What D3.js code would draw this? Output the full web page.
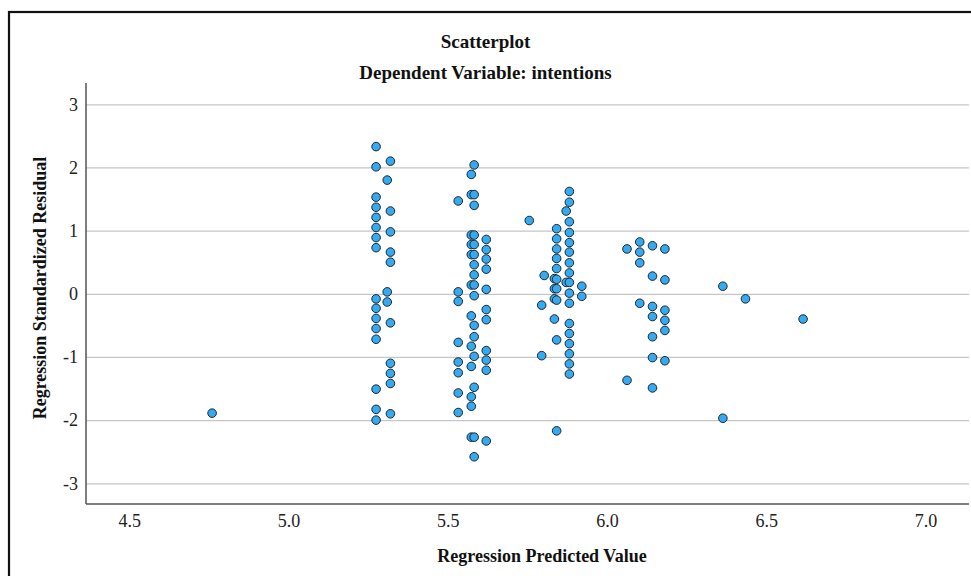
<!DOCTYPE html>
<html>
<head>
<meta charset="utf-8">
<script src="https://cdn.jsdelivr.net/npm/d3@7"></script>
<style>
  html, body { margin: 0; padding: 0; background: #fff; }
  svg { display: block; }
</style>
</head>
<body>
<svg id="chart" width="971" height="576"></svg>
<script>
// Predicted value of each vertical stack of cases
const predictedValues = [
  4.760, 5.275, 5.310, 5.320, 5.533, 5.574, 5.583, 5.621,
  5.756, 5.795, 5.803, 5.835, 5.842, 5.872, 5.882, 5.921,
  6.063, 6.103, 6.143, 6.182, 6.364, 6.435, 6.616
];

// Standardized residuals of the cases sharing each predicted value
const standardizedResiduals = [
  [-1.89],
  [2.33, 2.01, 1.53, 1.37, 1.21, 1.05, 0.89, 0.73, -0.08, -0.23, -0.39, -0.55, -0.72, -1.51, -1.83, -2.00],
  [1.80, 0.03, -0.13],
  [2.10, 1.31, 0.98, 0.66, 0.50, -0.46, -1.10, -1.26, -1.42, -1.90],
  [1.47, 0.03, -0.12, -0.77, -1.08, -1.25, -1.57, -1.88],
  [1.89, 1.57, 0.93, 0.78, 0.62, 0.14, -0.35, -0.83, -1.15, -1.63, -1.78, -2.27],
  [2.04, 1.57, 1.40, 0.93, 0.78, 0.62, 0.46, 0.30, 0.14, -0.03, -0.50, -0.68, -0.99, -1.48, -2.27, -2.58],
  [0.86, 0.70, 0.55, 0.39, 0.07, -0.25, -0.41, -0.90, -1.05, -1.21, -2.33],
  [1.16],
  [-0.18, -0.98],
  [0.29],
  [0.24, 0.08, -0.08, -0.40],
  [1.03, 0.87, 0.71, 0.56, 0.40, 0.23, 0.08, -0.10, -0.73, -2.17],
  [1.31, 0.18],
  [1.62, 1.45, 1.14, 0.97, 0.81, 0.66, 0.49, 0.33, 0.18, 0.01, -0.15, -0.47, -0.63, -0.79, -0.95, -1.11, -1.27],
  [0.12, -0.04],
  [0.71, -1.37],
  [0.82, 0.66, 0.49, -0.15],
  [0.76, 0.28, -0.20, -0.36, -0.68, -1.01, -1.49],
  [0.71, 0.22, -0.26, -0.42, -0.58, -1.06],
  [0.12, -1.97],
  [-0.08],
  [-0.40]
];

const xTicks = [4.5, 5.0, 5.5, 6.0, 6.5, 7.0];
const yTicks = [3, 2, 1, 0, -1, -2, -3];

const titleText = "Scatterplot";
const subtitleText = "Dependent Variable: intentions";
const xTitle = "Regression Predicted Value";
const yTitle = "Regression Standardized Residual";

const points = predictedValues.flatMap((p, i) =>
  standardizedResiduals[i].map(r => ({ predicted: p, residual: r })));

const svg = d3.select("#chart");
const W = 971, H = 576;
const plot = { left: 86, right: 969, top: 83, bottom: 504 };
const serif = "'Liberation Serif', 'Times New Roman', serif";

const x = d3.scaleLinear().domain([4.364, 7.137]).range([plot.left, plot.right]);
const y = d3.scaleLinear().domain([-3.328, 3.337]).range([plot.bottom, plot.top]);

// Outer frame of the chart
svg.append("rect")
  .attr("x", 9).attr("y", 12)
  .attr("width", W).attr("height", H)
  .attr("fill", "none").attr("stroke", "#111").attr("stroke-width", 2.2);

// Horizontal gridlines at each residual tick
svg.append("g")
  .attr("transform", `translate(${plot.left},0)`)
  .call(d3.axisRight(y).tickValues(yTicks).tickSize(plot.right - plot.left).tickFormat(""))
  .call(g => g.select(".domain").remove())
  .call(g => g.selectAll("line").attr("stroke", "#c6c6c6").attr("stroke-width", 1.2));

// Y axis
svg.append("g")
  .attr("transform", `translate(${plot.left},0)`)
  .call(d3.axisLeft(y).tickValues(yTicks).tickSize(0).tickPadding(8).tickFormat(d => String(d)))
  .call(g => g.select(".domain").attr("stroke", "#555").attr("stroke-width", 1.5)
    .attr("d", `M0,${plot.top}V${plot.bottom}`))
  .call(g => g.selectAll("text").attr("font-family", serif).attr("font-size", 18).attr("fill", "#222"));

// X axis
svg.append("g")
  .attr("transform", `translate(0,${plot.bottom})`)
  .call(d3.axisBottom(x).tickValues(xTicks).tickSize(0).tickPadding(10).tickFormat(d3.format(".1f")))
  .call(g => g.select(".domain").attr("stroke", "#555").attr("stroke-width", 1.5)
    .attr("d", `M${plot.left},0H${plot.right}`))
  .call(g => g.selectAll("text").attr("font-family", serif).attr("font-size", 18).attr("fill", "#222"));

// Cases
svg.append("g")
  .selectAll("circle")
  .data(points)
  .join("circle")
  .attr("cx", d => x(d.predicted))
  .attr("cy", d => y(d.residual))
  .attr("r", 4.3)
  .attr("fill", "#35aaf1")
  .attr("stroke", "#1b2730")
  .attr("stroke-width", 1);

// Titles
svg.append("text")
  .attr("x", W / 2).attr("y", 48)
  .attr("text-anchor", "middle")
  .attr("font-family", serif).attr("font-weight", "bold").attr("font-size", 19)
  .attr("fill", "#111")
  .text(titleText);

svg.append("text")
  .attr("x", W / 2).attr("y", 79)
  .attr("text-anchor", "middle")
  .attr("font-family", serif).attr("font-weight", "bold").attr("font-size", 19)
  .attr("fill", "#111")
  .text(subtitleText);

svg.append("text")
  .attr("x", 542).attr("y", 562)
  .attr("text-anchor", "middle")
  .attr("font-family", serif).attr("font-weight", "bold").attr("font-size", 18)
  .attr("fill", "#111")
  .text(xTitle);

svg.append("text")
  .attr("transform", `translate(46,288) rotate(-90)`)
  .attr("text-anchor", "middle")
  .attr("font-family", serif).attr("font-weight", "bold").attr("font-size", 18)
  .attr("fill", "#111")
  .text(yTitle);
</script>
</body>
</html>
